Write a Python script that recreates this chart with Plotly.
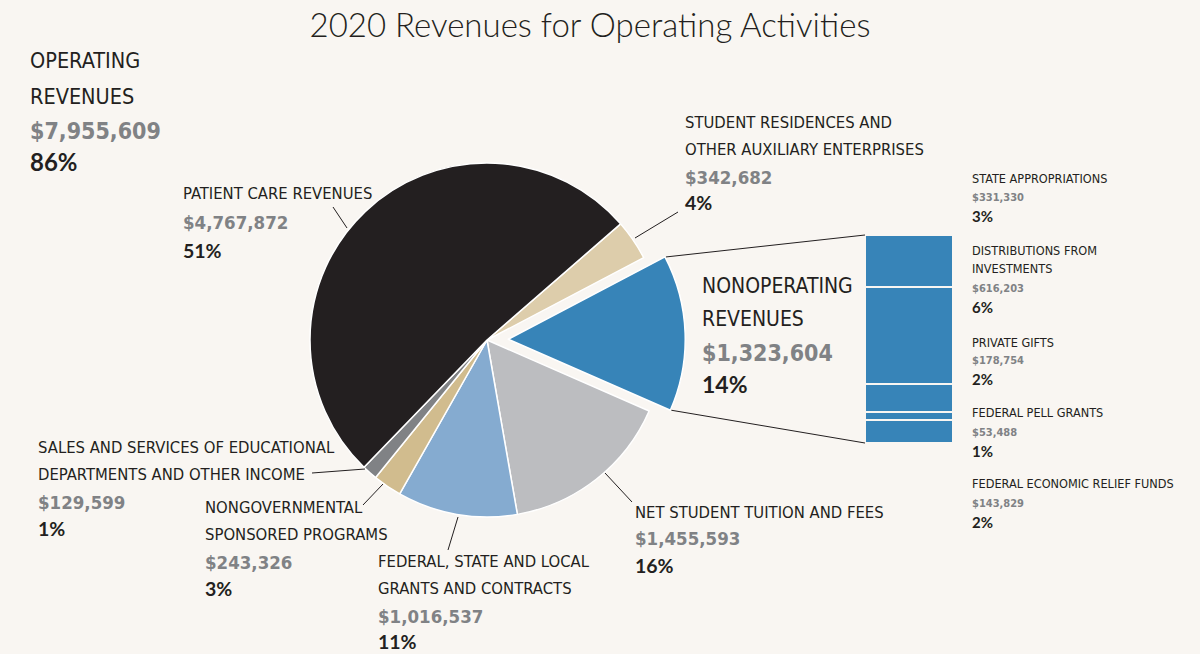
import math
import plotly.graph_objects as go

# ── Data ──────────────────────────────────────────────────────────────────────
pie_labels = [
    "Student residences and other auxiliary enterprises",
    "Nonoperating revenues",
    "Net student tuition and fees",
    "Federal, state and local grants and contracts",
    "Nongovernmental sponsored programs",
    "Sales and services of educational departments and other income",
    "Patient care revenues",
]
pie_values = [342682, 1323604, 1455593, 1016537, 243326, 129599, 4767872]
pie_pcts = ["4%", "14%", "16%", "11%", "3%", "1%", "51%"]
pie_colors = ["#ddcdab", "#3784b8", "#bcbdc0", "#85abd0", "#d1bc8e", "#808285", "#231f20"]

operating_total = 7955609
operating_pct = "86%"

nonop_labels = [
    "STATE APPROPRIATIONS",
    "DISTRIBUTIONS FROM<br>INVESTMENTS",
    "PRIVATE GIFTS",
    "FEDERAL PELL GRANTS",
    "FEDERAL ECONOMIC RELIEF FUNDS",
]
nonop_values = [331330, 616203, 178754, 53488, 143829]
nonop_pcts = ["3%", "6%", "2%", "1%", "2%"]

# ── Layout constants (pixels) ────────────────────────────────────────────────
W, H = 1200, 654
BG = "#f9f6f2"
INK = "#231f20"
GREY = "#808285"
BLUE = "#3784b8"
COND = "Liberation Sans Narrow, DejaVu Sans Condensed, Arial Narrow, sans-serif"
PCTF = "Lato, Inter, sans-serif"

CX, CY, R, PULL = 487, 340, 177, 0.12
ROTATION = 49
BAR_X0, BAR_X1, BAR_Y0, BAR_Y1 = 865, 953, 235, 443


def px(x, y):
    return x / W, 1 - y / H


fig = go.Figure()

half = R * (1 + PULL)
fig.add_trace(go.Pie(
    labels=pie_labels,
    values=pie_values,
    sort=False,
    direction="clockwise",
    rotation=ROTATION,
    pull=[PULL if i == 1 else 0 for i in range(len(pie_values))],
    marker=dict(colors=pie_colors, line=dict(color="white", width=1.5)),
    textinfo="none",
    hoverinfo="label+value",
    showlegend=False,
    domain=dict(x=[(CX - half) / W, (CX + half) / W],
                y=[1 - (CY + half) / H, 1 - (CY - half) / H]),
))

# stacked nonoperating breakdown (bottom-up, so reversed)
for lab, val in reversed(list(zip(nonop_labels, nonop_values))):
    fig.add_trace(go.Bar(
        x=[0], y=[val], name=lab, width=1,
        marker=dict(color=BLUE, line=dict(color=BG, width=2.5)),
        showlegend=False, hoverinfo="y",
        xaxis="x", yaxis="y",
    ))

annotations = []


def text_line(x, y, text, size, color=INK, family=COND, weight="normal"):
    ax, ay = px(x, y)
    annotations.append(dict(
        x=ax, y=ay, xref="paper", yref="paper", text=text,
        showarrow=False, xanchor="left", yanchor="middle", xshift=-2,
        font=dict(family=family, size=size, color=color, weight=weight),
    ))


def block(x, ys, lines, amount, pct, s_lab, s_amt, s_pct):
    for y, t in zip(ys, lines):
        text_line(x, y, t, s_lab)
    text_line(x, ys[len(lines)], f"${amount:,}", s_amt, GREY, COND, "bold")
    text_line(x, ys[len(lines) + 1], pct, s_pct, INK, PCTF, "bold")


# big headers
block(30, [60, 96, 131, 161], ["OPERATING", "REVENUES"], operating_total, operating_pct, 21.5, 23, 24)
block(702, [286, 319, 353, 384], ["NONOPERATING", "REVENUES"], pie_values[1], pie_pcts[1], 21, 23, 23)

# pie slice labels
LAB, AMT, PCT = 16.5, 18.5, 19.5
block(183, [194, 223, 250], ["PATIENT CARE REVENUES"], pie_values[6], pie_pcts[6], LAB, AMT, PCT)
block(685, [123, 150, 177, 203], ["STUDENT RESIDENCES AND", "OTHER AUXILIARY ENTERPRISES"],
      pie_values[0], pie_pcts[0], LAB, AMT, PCT)
block(38, [447, 474, 502, 528], ["SALES AND SERVICES OF EDUCATIONAL", "DEPARTMENTS AND OTHER INCOME"],
      pie_values[5], pie_pcts[5], LAB, AMT, PCT)
block(205, [507, 534, 562, 588], ["NONGOVERNMENTAL", "SPONSORED PROGRAMS"],
      pie_values[4], pie_pcts[4], LAB, AMT, PCT)
block(378, [561, 588, 616, 641], ["FEDERAL, STATE AND LOCAL", "GRANTS AND CONTRACTS"],
      pie_values[3], pie_pcts[3], LAB, AMT, PCT)
block(635, [512, 538, 565], ["NET STUDENT TUITION AND FEES"], pie_values[2], pie_pcts[2], LAB, AMT, PCT)

# nonoperating breakdown labels
nonop_ys = [[178, 197, 216], [250, 268, 288, 307], [342, 360, 379], [412, 432, 451], [483, 503, 522]]
for lab, val, pct, ys in zip(nonop_labels, nonop_values, nonop_pcts, nonop_ys):
    block(972, ys, lab.split("<br>"), val, pct, 12.6, 11, 15)

# ── Leader lines ─────────────────────────────────────────────────────────────
shapes = []


def seg(x0, y0, x1, y1):
    a0, b0 = px(x0, y0)
    a1, b1 = px(x1, y1)
    shapes.append(dict(type="line", xref="paper", yref="paper",
                       x0=a0, y0=b0, x1=a1, y1=b1,
                       line=dict(color=INK, width=1)))


seg(333, 207, 347, 228)   # patient care
seg(635, 238, 678, 212)   # residences
seg(312, 473, 365, 469)   # sales
seg(363, 505, 383, 484)   # nongov
seg(605, 473, 632, 502)   # tuition
seg(458, 517, 448, 550)   # federal grants

# connectors from the pulled-out slice to the breakdown bar
total = sum(pie_values)
start = 90 - ROTATION - pie_values[0] / total * 360
end = start - pie_values[1] / total * 360
mid = math.radians((start + end) / 2)
ax0 = CX + PULL * R * math.cos(mid)
ay0 = CY - PULL * R * math.sin(mid)
for ang, by in ((start, BAR_Y0), (end, BAR_Y1)):
    a = math.radians(ang)
    seg(ax0 + R * math.cos(a) + 1, ay0 - R * math.sin(a), BAR_X0, by)

fig.update_layout(
    width=W, height=H,
    margin=dict(l=0, r=0, t=0, b=0),
    paper_bgcolor=BG, plot_bgcolor=BG,
    title=dict(text="2020 Revenues for Operating Activities",
               x=590 / W, xanchor="center", y=1 - 25 / H, yanchor="middle",
               font=dict(family="Lato, Open Sans, sans-serif", size=33, color=INK, weight=300)),
    barmode="stack", bargap=0,
    xaxis=dict(domain=[BAR_X0 / W, BAR_X1 / W], range=[-0.5, 0.5], visible=False, fixedrange=True),
    yaxis=dict(domain=[1 - BAR_Y1 / H, 1 - BAR_Y0 / H], range=[0, sum(nonop_values)],
               visible=False, fixedrange=True),
    annotations=annotations,
    shapes=shapes,
)

fig.write_html("out.html", config={"displayModeBar": False},
               post_script=f"document.body.style.margin='0';document.body.style.background='{BG}';")
